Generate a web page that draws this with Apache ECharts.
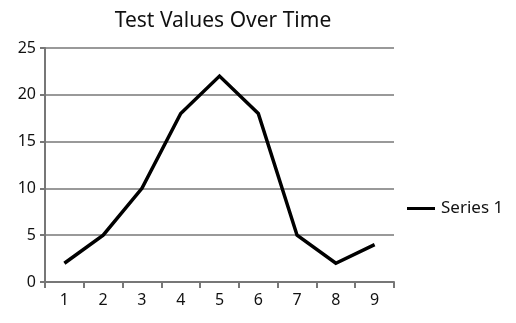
<!DOCTYPE html>
<html>
<head>
<meta charset="utf-8">
<script src="https://cdn.jsdelivr.net/npm/echarts@6/dist/echarts.min.js"></script>
<style>
  html, body { margin: 0; padding: 0; background: #fff; }
  #chart { width: 516px; height: 323px; }
</style>
</head>
<body>
<div id="chart"></div>
<script>
// Time steps along the x axis
const categories = ['1', '2', '3', '4', '5', '6', '7', '8', '9'];
// Measured test values
const series1 = [2, 5, 10, 18, 22, 18, 5, 2, 4];
const seriesName = 'Series 1';
const titleText = 'Test Values Over Time';

const FONT = '"Noto Sans", "Open Sans", sans-serif';
const chart = echarts.init(document.getElementById('chart'), null, { renderer: 'canvas' });

chart.setOption({
  animation: false,
  backgroundColor: '#ffffff',
  title: {
    text: titleText,
    left: 218,
    textAlign: 'center',
    top: 6,
    textStyle: { fontFamily: FONT, fontSize: 21, fontWeight: 'normal', color: '#111' }
  },
  legend: {
    data: [seriesName],
    left: 407,
    top: 200,
    padding: 0,
    itemWidth: 28,
    itemHeight: 3,
    icon: 'rect',
    textStyle: { fontFamily: FONT, fontSize: 17, color: '#111', padding: [0, 0, 0, 1] }
  },
  grid: { left: 45, right: 122, top: 48, bottom: 41, containLabel: false },
  xAxis: {
    type: 'category',
    data: categories,
    boundaryGap: true,
    axisLine: { lineStyle: { color: '#777', width: 2 } },
    axisTick: { show: true, alignWithLabel: false, length: 6, lineStyle: { color: '#777', width: 2 } },
    axisLabel: { fontFamily: FONT, fontSize: 16, color: '#111', margin: 10 },
    splitLine: { show: false }
  },
  yAxis: {
    type: 'value',
    min: 0,
    max: 25,
    interval: 5,
    axisLine: { show: true, lineStyle: { color: '#777', width: 2 } },
    axisTick: { show: true, length: 5, lineStyle: { color: '#777', width: 2 } },
    axisLabel: { fontFamily: FONT, fontSize: 16, color: '#111', margin: 9 },
    splitLine: { show: true, lineStyle: { color: '#777', width: 1.5 } }
  },
  series: [{
    name: seriesName,
    type: 'line',
    data: series1,
    symbol: 'none',
    lineStyle: { color: '#000', width: 3.5, join: 'miter' },
    itemStyle: { color: '#000' }
  }]
});
</script>
</body>
</html>
